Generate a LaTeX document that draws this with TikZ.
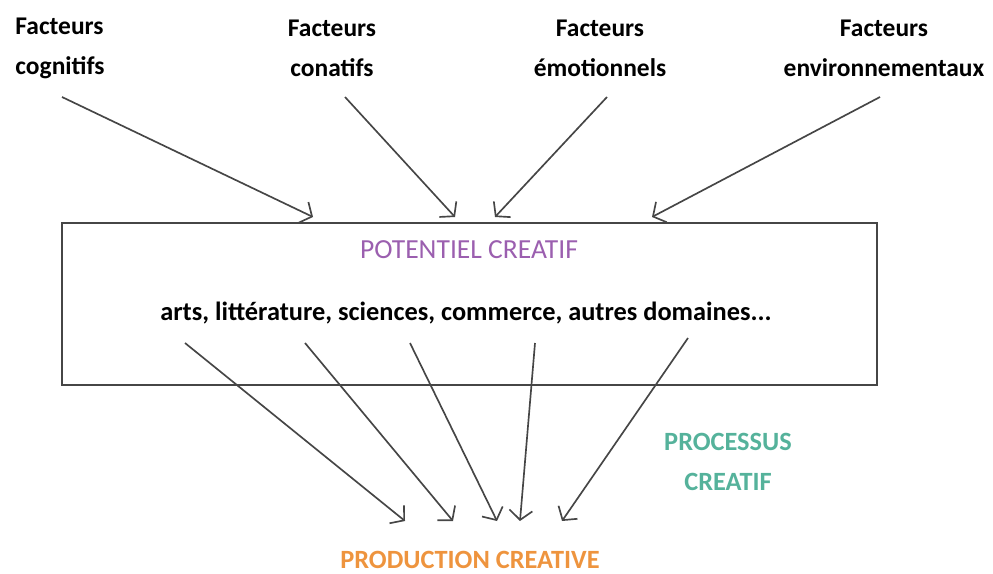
\documentclass[tikz,border=0pt]{standalone}
\usepackage{fontspec}
\setmainfont{Carlito}
\usetikzlibrary{arrows.meta}
\definecolor{violet}{RGB}{155,95,175}
\definecolor{turquoise}{RGB}{85,178,155}
\definecolor{orange}{RGB}{238,148,62}
\definecolor{trait}{RGB}{70,70,70}
\begin{document}
\begin{tikzpicture}[x=0.02cm, y=-0.02cm,
    facteur/.style={font=\bfseries\fontsize{14.5}{22.7}\selectfont, align=center, inner sep=0pt},
    titre/.style={font=\bfseries\fontsize{15}{22.7}\selectfont, align=center, inner sep=0pt},
    fleche/.style={-{Straight Barb[length=1.9mm, width=4.6mm]}, draw=trait, line width=0.95pt}]
    \useasboundingbox (0,0) rectangle (993,574);

    % Facteurs
    \node[facteur, align=left] (cog) at (60,48) {Facteurs\\cognitifs};
    \node[facteur] (con) at (332,48) {Facteurs\\conatifs};
    \node[facteur] (emo) at (600,48) {Facteurs\\émotionnels};
    \node[facteur] (env) at (884,48) {Facteurs\\environnementaux};

    % Le cadre du potentiel
    \node[draw=trait, line width=1.1pt, minimum width=16.3cm, minimum height=3.24cm,
          inner sep=0pt] (cadre) at (469.5,304) {};
    \node[titre, font=\fontsize{15.7}{18}\selectfont, text=violet] (pot) at (469,250) {POTENTIEL CREATIF};
    \node[font=\bfseries\fontsize{15}{18}\selectfont, inner sep=0pt] (dom) at (466,313)
        {arts, littérature, sciences, commerce, autres domaines...};

    \node[titre, text=turquoise] (proc) at (728,462) {PROCESSUS\\CREATIF};
    \node[titre, text=orange] (prod) at (470,560) {PRODUCTION CREATIVE};

    % Points de départ et d'arrivée des flèches
    \coordinate (a1) at (62,97);   \coordinate (b1) at (313,217);
    \coordinate (a2) at (345,97);  \coordinate (b2) at (455,217);
    \coordinate (a3) at (607,97);  \coordinate (b3) at (495,217);
    \coordinate (a4) at (880,97);  \coordinate (b4) at (652,217);

    \coordinate (d1) at (185,343); \coordinate (p1) at (405,521);
    \coordinate (d2) at (305,343); \coordinate (p2) at (453,521);
    \coordinate (d3) at (410,343); \coordinate (p3) at (497,521);
    \coordinate (d4) at (535,343); \coordinate (p4) at (520,521);
    \coordinate (d5) at (688,338); \coordinate (p5) at (562,521);

    % Flèches vers le potentiel
    \foreach \i in {1,...,4}
        \draw[fleche] (a\i) -- (b\i);

    % Flèches vers la production
    \foreach \i in {1,...,5}
        \draw[fleche] (d\i) -- (p\i);

\end{tikzpicture}
\end{document}
